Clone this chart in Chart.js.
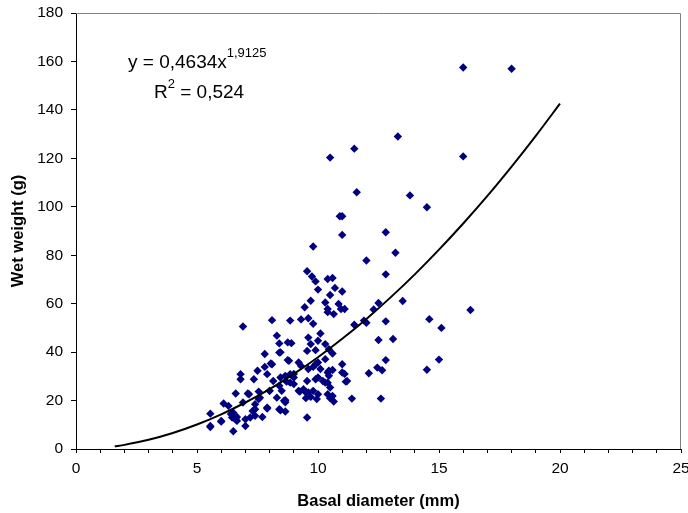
<!DOCTYPE html>
<html>
<head>
<meta charset="utf-8">
<script src="https://cdn.jsdelivr.net/npm/chart.js@4"></script>
<style>
  html, body { margin: 0; padding: 0; background: #fff; }
  #wrap { width: 688px; height: 513px; }
</style>
</head>
<body>
<div id="wrap"><canvas id="scatterChart" width="688" height="513"></canvas></div>
<script>
// SCATTER: basal diameter (mm) vs wet weight (g)

const diameters = [
  16.0, 18.0, 13.3, 11.5, 10.5, 16.0, 11.6, 13.8, 14.5, 10.9, 11.0, 11.0, 12.8, 9.8, 12.0, 13.2, 12.8,
  9.55, 9.75, 9.9, 10.4, 10.6, 10.0, 10.7, 11.0, 10.5, 9.7, 10.3, 9.45, 10.4, 10.85, 10.95, 11.1, 12.5, 12.3,
  13.5, 16.3, 14.6, 15.1, 11.5, 11.9, 12.0, 12.8, 12.5, 13.1, 10.65, 10.4,
  6.9, 8.1, 8.85, 9.3, 9.6, 9.8,
  8.3, 8.4, 8.75, 8.4, 7.8, 8.9, 9.6, 10.1, 10.0, 9.7, 10.3, 9.55, 9.9, 10.45, 10.6, 10.3,
  8.1, 8.8, 7.8, 7.5, 6.8, 6.8, 7.35, 7.9, 8.15, 8.45, 8.7, 8.4, 8.0, 7.55, 7.1, 6.6, 7.6, 8.3, 8.65,
  6.1, 6.3, 6.9, 7.4, 7.9, 8.4, 7.3, 7.4, 6.65, 6.5, 6.45, 7.0, 7.7, 5.55, 5.55, 6.0, 7.0, 6.5, 6.65,
  8.05, 9.2, 9.3, 9.6, 9.9, 10.1, 10.45, 10.6, 11.0, 11.0, 12.1, 12.65, 12.8, 15.0, 14.5,
  8.65, 9.0, 8.85, 9.9, 10.2, 10.4, 10.45, 11.2, 9.2, 9.4, 9.6, 9.8, 10.0, 9.5, 9.7, 9.95, 10.4, 10.5,
  10.65, 10.6, 11.4, 12.6, 8.65, 8.65, 9.55, 8.5, 8.6, 7.15, 7.55, 7.9, 8.45, 7.4, 7.2, 6.0, 5.55,
  6.4, 6.6, 9.0, 9.55, 10.0, 10.4, 11.15, 12.45, 10.3, 10.5, 9.5, 8.0, 9.0, 8.85, 8.45, 8.75, 9.8,
  10.0, 11.1, 9.25
];

const wetWeights = [
  157.5, 157, 129, 124, 120.3, 120.8, 106, 104.7, 99.8, 96.1, 96.1, 88.4, 89.5, 83.6, 77.8, 81, 72.1,
  73.4, 71.2, 69.2, 70.2, 70.6, 65.8, 66.5, 65, 63.6, 61.2, 60.5, 58.5, 57.8, 59.9, 57.8, 57.8, 60.3, 57.6,
  61.1, 57.4, 53.6, 50, 51.3, 53, 52.1, 52.7, 45, 45.4, 55.7, 56.5,
  50.6, 53.2, 53, 53.5, 54, 51.7,
  46.8, 43.6, 44, 39.8, 39.2, 43.7, 46, 47.7, 44.7, 43.3, 43.3, 40.5, 40.8, 41.2, 39.4, 37.1,
  35, 36.4, 33.9, 32.3, 30.9, 28.8, 28.8, 30.9, 28.1, 29.5, 27.8, 26.1, 24, 23.7, 22.9, 22.9, 21.2, 21.2, 20.1,
  18.8, 17.8, 19.2, 18.5, 17.1, 16.4, 15.7, 13.7, 13.2, 15, 13, 12.3, 13.2, 14.6, 9.5, 11.6, 9.5, 7.3, 11.6,
  35.3, 35.7, 34.3, 33, 35, 33, 32.3, 32.6, 35, 31.6, 31.3, 32.5, 36.7, 36.9, 32.7,
  30.2, 29.5, 27.4, 28.8, 28.1, 27.4, 30.2, 28.1, 24, 24.7, 23.3, 24, 22.6, 21, 21.5, 20.6, 22.6, 21,
  19.6, 21.9, 20.8, 20.8, 19.3, 15.5, 13, 24, 19.9, 22.6, 20.6, 16.7, 16, 16.4, 13, 11.3, 9.1,
  14.4, 12.3, 26.8, 28.1, 29.5, 31.6, 27.8, 33.6, 27.4, 25.4, 23.3, 24, 31, 30.9, 39.9, 36.7, 33.9,
  35.7, 31, 23.7
];

// power trendline
const trendX = [1.6, 2, 3, 4, 5, 6, 7, 8, 9, 10, 11, 12, 13, 14, 15, 16, 17, 18, 19, 20];
const trendY = [1.1, 1.7, 3.8, 6.6, 10.1, 14.3, 19.2, 24.7, 31.0, 37.9, 45.5, 53.7, 62.6, 72.1, 82.3, 93.1, 104.5, 116.6, 129.3, 142.6];

const xTicks = [0, 5, 10, 15, 20, 25];
const yTicks = [0, 20, 40, 60, 80, 100, 120, 140, 160, 180];

const FONT = '"Liberation Sans", Arial, sans-serif';

// plot frame + equation text
const framePlugin = {
    id: 'frame',
    afterDatasetsDraw(chart) {
        const { ctx, chartArea: a } = chart;
        ctx.save();
        ctx.strokeStyle = '#808080';
        ctx.lineWidth = 1;
        ctx.beginPath();
        ctx.moveTo(a.left, a.top + 0.5);
        ctx.lineTo(a.right - 0.5, a.top + 0.5);
        ctx.lineTo(a.right - 0.5, a.bottom);
        ctx.stroke();

        ctx.fillStyle = '#000';
        ctx.textBaseline = 'alphabetic';
        ctx.font = '19px ' + FONT;
        let x = 128, y = 68;
        ctx.fillText('y = 0,4634x', x, y);
        let w = ctx.measureText('y = 0,4634x').width;
        ctx.font = '13px ' + FONT;
        ctx.fillText('1,9125', x + w, y - 11);

        ctx.font = '19px ' + FONT;
        x = 154; y = 98;
        ctx.fillText('R', x, y);
        w = ctx.measureText('R').width;
        ctx.font = '13px ' + FONT;
        ctx.fillText('2', x + w, y - 10);
        const w2 = ctx.measureText('2').width;
        ctx.font = '19px ' + FONT;
        ctx.fillText(' = 0,524', x + w + w2, y);
        ctx.restore();
    }
};

const scatterCtx = document.getElementById('scatterChart');

new Chart(scatterCtx, {
    type: 'scatter',
    data: {
        datasets: [{
            label: 'Wet weight',
            data: diameters.map((d, i) => ({ x: d, y: wetWeights[i] })),
            pointStyle: 'rectRot',
            pointRadius: 4.2,
            pointHoverRadius: 4.2,
            backgroundColor: '#000080',
            borderColor: '#000080',
            borderWidth: 0,
            order: 2
        }, {
            type: 'line',
            label: 'Power trend',
            data: trendX.map((d, i) => ({ x: d, y: trendY[i] })),
            borderColor: '#000',
            borderWidth: 2,
            pointRadius: 0,
            fill: false,
            tension: 0.3,
            order: 1
        }]
    },
    options: {
        responsive: false,
        animation: false,
        layout: { padding: { top: 13, right: 7, left: 0, bottom: 0 } },
        plugins: {
            legend: { display: false },
            tooltip: { enabled: false }
        },
        scales: {
            x: {
                type: 'linear',
                min: 0,
                max: 25,
                afterFit(scale) {
                    scale.height = 64;
                    scale.paddingLeft = 0;
                    scale.paddingRight = 0;
                },
                afterBuildTicks(scale) {
                    const t = [];
                    for (let v = 0; v <= 25; v++) t.push({ value: v });
                    scale.ticks = t;
                },
                ticks: {
                    autoSkip: false,
                    maxRotation: 0,
                    padding: 6,
                    color: '#000',
                    font: { family: FONT, size: 15.5 },
                    callback: v => xTicks.includes(v) ? String(v) : ''
                },
                grid: {
                    drawOnChartArea: false,
                    drawTicks: true,
                    tickLength: 4,
                    tickColor: '#000'
                },
                border: { color: '#000', width: 1 },
                title: {
                    display: true,
                    text: 'Basal diameter (mm)',
                    color: '#000',
                    font: { family: FONT, size: 16.5, weight: 'bold' },
                    padding: { top: 4, bottom: 2 }
                }
            },
            y: {
                type: 'linear',
                min: 0,
                max: 180,
                afterFit(scale) {
                    scale.width = 76;
                    scale.paddingTop = 0;
                    scale.paddingBottom = 0;
                },
                afterBuildTicks(scale) {
                    scale.ticks = yTicks.map(v => ({ value: v }));
                },
                ticks: {
                    padding: 8,
                    color: '#000',
                    font: { family: FONT, size: 15.5 }
                },
                grid: {
                    drawOnChartArea: false,
                    drawTicks: true,
                    tickLength: 5,
                    tickColor: '#000'
                },
                border: { color: '#000', width: 1 },
                title: {
                    display: true,
                    text: 'Wet weight (g)',
                    color: '#000',
                    font: { family: FONT, size: 16.5, weight: 'bold' },
                    padding: { top: 9, bottom: 9 }
                }
            }
        }
    },
    plugins: [framePlugin]
});
</script>
</body>
</html>
